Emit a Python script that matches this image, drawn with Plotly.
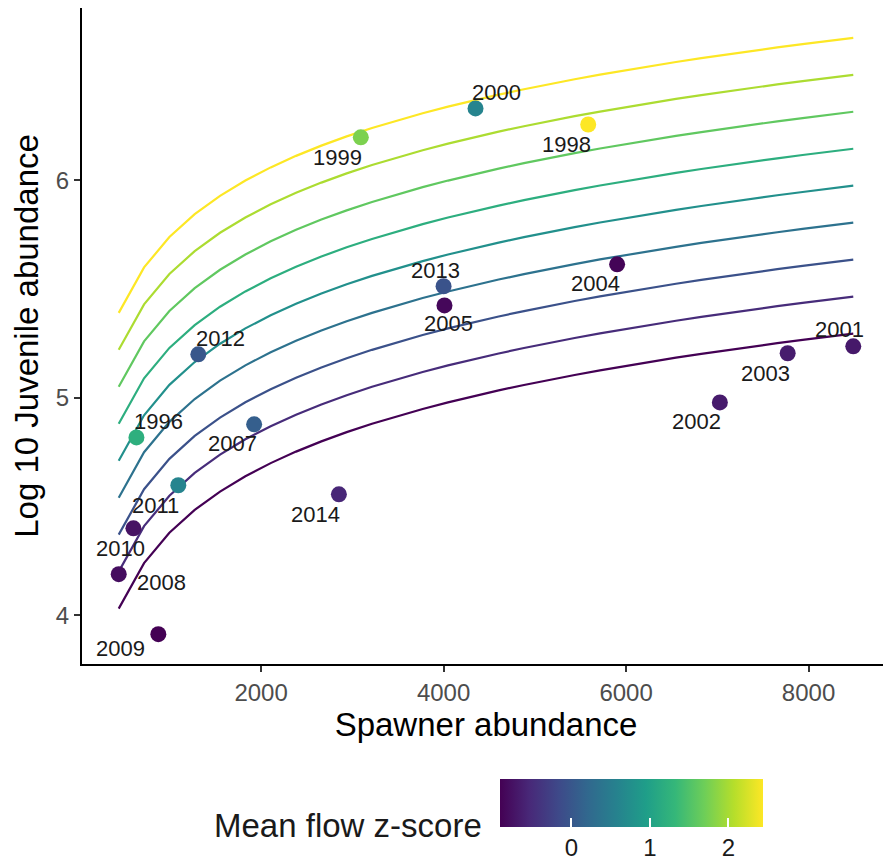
import numpy as np
import plotly.graph_objects as go
from plotly.colors import sample_colorscale

# ---- data ----
years = ["1996", "1998", "1999", "2000", "2001", "2002", "2003", "2004", "2005",
         "2007", "2008", "2009", "2010", "2011", "2012", "2013", "2014"]
spawners = [634, 5585, 3093, 4350, 8490, 7028, 7771, 5902, 4010,
            1924, 440, 874, 601, 1093, 1312, 4000, 2853]
log10_juveniles = [4.818, 6.257, 6.198, 6.331, 5.237, 4.979, 5.205, 5.614, 5.425,
                   4.878, 4.189, 3.913, 4.400, 4.598, 5.200, 5.513, 4.556]
flow_z = [1.20, 2.44, 1.77, 0.60, -0.68, -0.66, -0.65, -0.88, -0.85,
          0.10, -0.80, -0.91, -0.75, 0.60, 0.00, -0.05, -0.55]

# fitted model lines: log10(J) = intercept + slope*log10(S) + flow_coef*z
model_intercept = 1.799
model_slope = 0.984
model_flow_coef = 0.406
n_flow_levels = 9
n_curve_points = 30

x_ticks = [2000, 4000, 6000, 8000]
y_ticks = [4, 5, 6]
cbar_ticks = [0, 1, 2]

# label placement offsets (pixels) for the repelled year labels
label_offsets = {
    "1996": (22, 16), "1998": (-22, -20), "1999": (-23, -20), "2000": (21, 16),
    "2001": (-14, 17), "2002": (-23, -19), "2003": (-22, -20), "2004": (-22, -19),
    "2005": (4, -18), "2007": (-22, -19), "2008": (43, -8), "2009": (-38, -14),
    "2010": (-13, -20), "2011": (-23, -20), "2012": (22, 16), "2013": (-8, 16),
    "2014": (-23, -20),
}

zmin, zmax = min(flow_z), max(flow_z)
flow_levels = np.linspace(zmin, zmax, n_flow_levels)
s_grid = np.linspace(min(spawners), max(spawners), n_curve_points)
line_colors = sample_colorscale("Viridis", list((flow_levels - zmin) / (zmax - zmin)))

FONT = "Liberation Sans, Arial, sans-serif"

fig = go.Figure()
for z, col in zip(flow_levels, line_colors):
    yv = model_intercept + model_slope * np.log10(s_grid) + model_flow_coef * z
    fig.add_trace(go.Scatter(x=s_grid, y=yv, mode="lines",
                             line=dict(color=col, width=2.2), hoverinfo="skip",
                             showlegend=False))

# figure size (page body has an 8px margin) and plot area in pixels
W, H = 883, 859
ml, mr, mt, mb = 74, 1, 0, 203
pw, ph = W - ml - mr, H - mt - mb
plot_bottom = mt + ph

# colour bar geometry (figure pixels)
cb_left, cb_len, cb_top, cb_thick = 492, 263, 771, 48

fig.add_trace(go.Scatter(
    x=spawners, y=log10_juveniles, mode="markers", showlegend=False,
    marker=dict(size=16, color=flow_z, colorscale="Viridis", cmin=zmin, cmax=zmax,
                line=dict(width=0),
                colorbar=dict(
                    orientation="h", thickness=cb_thick, thicknessmode="pixels",
                    len=cb_len, lenmode="pixels",
                    x=(cb_left - ml) / pw, xanchor="left",
                    y=-(cb_top - plot_bottom) / ph, yanchor="top",
                    outlinewidth=0, xpad=0, ypad=0,
                    tickvals=cbar_ticks, ticks="inside", tickcolor="white",
                    ticklen=9, tickwidth=1.5,
                    tickfont=dict(size=24, color="#1a1a1a", family=FONT),
                ))))

# white tick marks on the top edge of the colour bar (as in ggplot's colourbar)
for t in cbar_ticks:
    px = cb_left + (t - zmin) / (zmax - zmin) * cb_len
    xp = (px - ml) / pw
    y0 = -(cb_top - plot_bottom) / ph
    y1 = -(cb_top + 9 - plot_bottom) / ph
    fig.add_shape(type="line", xref="paper", yref="paper", x0=xp, x1=xp, y0=y0, y1=y1,
                  line=dict(color="white", width=1.5))

for yr, sx, ly in zip(years, spawners, log10_juveniles):
    dx, dy = label_offsets[yr]
    fig.add_annotation(x=sx, y=ly, text=yr, showarrow=False, xshift=dx, yshift=dy,
                       font=dict(size=22, color="#1a1a1a", family=FONT))

fig.add_annotation(text="Mean flow z-score", xref="paper", yref="paper",
                   x=(476 - ml) / pw, xanchor="right",
                   y=-(817 - plot_bottom) / ph, yanchor="middle",
                   showarrow=False, font=dict(size=33, color="#1a1a1a", family=FONT))

all_y = list(log10_juveniles) + [model_intercept + model_slope * np.log10(max(spawners))
                                 + model_flow_coef * zmax]
xr = max(spawners) - min(spawners)
yr_ = max(all_y) - min(all_y)
x_range = [min(spawners) - 0.05 * xr, max(spawners) + 0.05 * xr]
y_range = [min(all_y) - 0.05 * yr_, max(all_y) + 0.05 * yr_]

axis_common = dict(showline=True, linecolor="black", linewidth=2, ticks="outside",
                   ticklen=6, tickwidth=2, tickcolor="#333333", showgrid=False,
                   zeroline=False, automargin=False,
                   tickfont=dict(size=24, color="#4d4d4d", family=FONT))

fig.update_xaxes(range=x_range, tickvals=x_ticks, ticktext=[str(v) for v in x_ticks],
                 title=dict(text="Spawner abundance",
                            font=dict(size=33, color="black", family=FONT), standoff=2),
                 **axis_common)
fig.update_yaxes(range=y_range, tickvals=y_ticks, ticktext=[str(v) for v in y_ticks],
                 title=dict(text="Log 10 Juvenile abundance",
                            font=dict(size=33, color="black", family=FONT), standoff=10),
                 **axis_common)

fig.update_layout(width=W, height=H,
                  margin=dict(l=ml, r=mr, t=mt, b=mb, autoexpand=False),
                  plot_bgcolor="white", paper_bgcolor="white",
                  font=dict(family=FONT))

fig.write_html("out.html")
